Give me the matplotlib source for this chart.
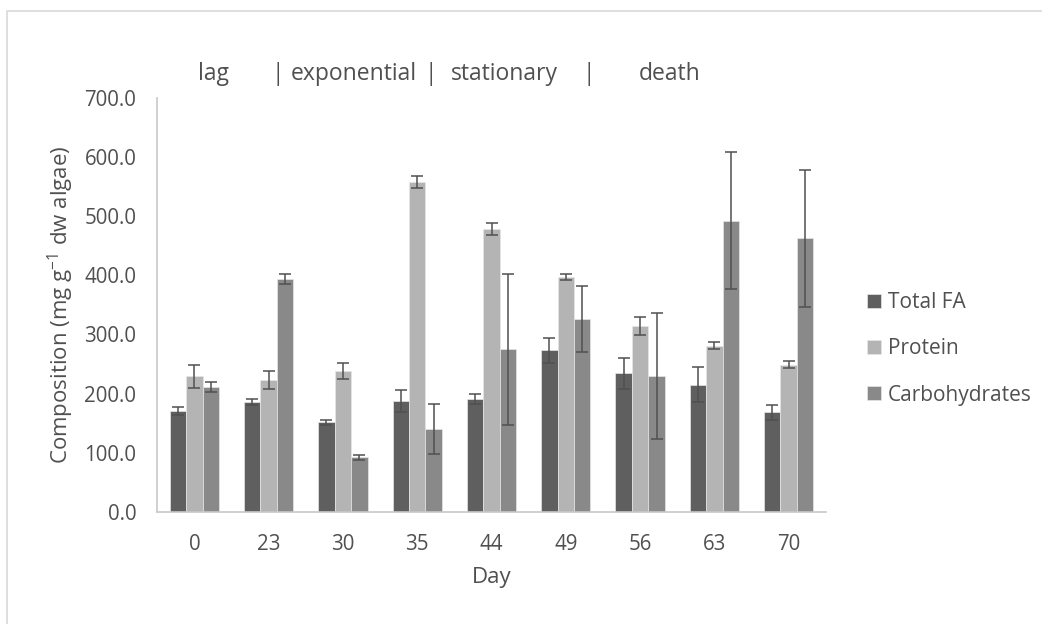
import matplotlib
matplotlib.use("Agg")
import matplotlib.pyplot as plt
import numpy as np
from matplotlib.patches import Rectangle

days = ["0", "23", "30", "35", "44", "49", "56", "63", "70"]

total_fa = [171, 185, 151, 187, 191, 273, 234, 215, 168]
total_fa_err = [7, 5, 5, 19, 9, 21, 26, 29, 13]

protein = [229, 223, 238, 558, 479, 397, 314, 281, 249]
protein_err = [20, 15, 14, 10, 10, 4.5, 15, 6.5, 5.5]

carbs = [211, 394, 92, 140, 275, 326, 230, 492, 463]
carbs_err = [9, 8.5, 4.5, 42, 128, 56, 107, 116, 116]

phases = ["lag", "|", "exponential", "|", "stationary", "|", "death"]
phase_x = [213, 278, 354, 431, 504, 589, 670]  # pixel centres along the top

plt.rcParams["font.family"] = ["Open Sans", "DejaVu Sans"]
plt.rcParams["mathtext.default"] = "regular"
txt = "#505050"

W, H = 1042, 624
fig = plt.figure(figsize=(W / 100, H / 100), dpi=100)
ax = fig.add_axes([157.3 / W, 1 - 511.7 / H, (825.7 - 157.3) / W, (511.7 - 98) / H])

x = np.arange(len(days))
bw = 0.222
series = [
    ("Total FA", total_fa, total_fa_err, "#5f5f5f"),
    ("Protein", protein, protein_err, "#b4b4b4"),
    ("Carbohydrates", carbs, carbs_err, "#898989"),
]
for i, (name, vals, err, col) in enumerate(series):
    pos = x + (i - 1) * bw
    ax.bar(pos, vals, bw, color=col, label=name, edgecolor="#e6e6e6", linewidth=0.5, zorder=2)
    ax.errorbar(pos, vals, yerr=err, fmt="none", ecolor="#505050", elinewidth=1.1,
                capsize=4.3, capthick=1.1, zorder=3)

ax.set_xlim(-0.5, len(days) - 0.5)
ax.set_ylim(0, 700)
ax.set_yticks(np.arange(0, 701, 100))
ax.set_yticklabels([f"{v:.1f}" for v in range(0, 701, 100)])
ax.set_xticks(x)
ax.set_xticklabels(days)
ax.tick_params(axis="both", length=0, labelsize=14.8, colors=txt)
ax.tick_params(axis="y", pad=15)
ax.tick_params(axis="x", pad=16)

for s in ["top", "right"]:
    ax.spines[s].set_visible(False)
for s in ["left", "bottom"]:
    ax.spines[s].set_color("#c8c8c8")
    ax.spines[s].set_linewidth(1.2)

ax.set_xlabel("Day", fontsize=16, color=txt, labelpad=9)
ax.set_ylabel("Composition (mg g$^{-1}$ dw algae)", fontsize=16, color=txt, labelpad=6)

for label, px in zip(phases, phase_x):
    fig.text(px / W, 1 - 80.5 / H, label, ha="center", va="baseline",
             fontsize=16.5, color=txt)

leg = ax.legend(loc="center left", bbox_to_anchor=(866.7 / W, 1 - 349 / H),
                bbox_transform=fig.transFigure, frameon=False, fontsize=15,
                handlelength=0.68, handleheight=0.68, handletextpad=0.35,
                labelspacing=1.2, borderpad=0, borderaxespad=0)
for t in leg.get_texts():
    t.set_color(txt)

# light chart-area border
fig.patches.append(Rectangle((7 / W, -0.1), 1.2, 1.1 - 11 / H, transform=fig.transFigure,
                             fill=False, edgecolor="#d9d9d9", linewidth=1.2))

fig.savefig("out.png", dpi=100, facecolor="white")
